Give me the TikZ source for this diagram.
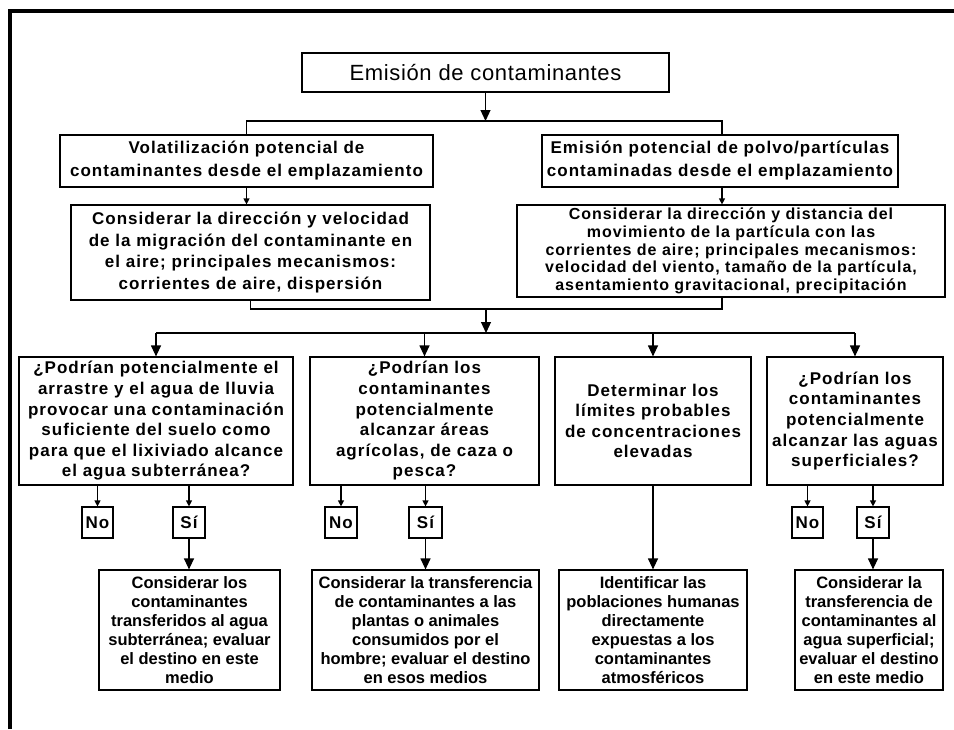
\documentclass[tikz,border=0pt]{standalone}
\usepackage{fontspec}
\setmainfont{Liberation Sans}
\newfontfamily\spacedfont[LetterSpace=6]{Liberation Sans}
\newfontfamily\titlefont[LetterSpace=3]{Liberation Sans}
\usetikzlibrary{positioning,arrows.meta}
\tikzset{
  flow box/.style 2 args={
    draw,
    line width=1.2pt,
    inner sep=0pt,
    align=center,
    minimum width={#1pt},
    minimum height={#2pt},
  },
  title text/.style={font=\titlefont\fontsize{22}{26}\selectfont},
  ask text/.style={font=\spacedfont\bfseries\fontsize{17}{#1}\selectfont},
  step text/.style={font=\spacedfont\bfseries\fontsize{16}{17.7}\selectfont},
  result text/.style={font=\bfseries\fontsize{16.5}{19}\selectfont},
  big arrow/.style={-{Triangle[width=10pt,length=11pt]}, line width=1.2pt},
  small arrow/.style={-{Triangle[width=6pt,length=6pt]}, line width=1.2pt},
  link/.style={line width=1.2pt},
}
\begin{document}
\begin{tikzpicture}[x=1pt, y=-1pt]
    \useasboundingbox (0,0) rectangle (954,729);
    \draw[line width=4.3pt] (10,729) -- (10,11.2) -- (954,11.2);

    % source and pathways
    \node [flow box={367}{39}, title text] (emis) at (485.5,72.5) {Emisión de contaminantes};
    \node [flow box={373}{52}, ask text=23] (vol) at (246.5,161)
        {Volatilización potencial de\\contaminantes desde el emplazamiento};
    \node [flow box={356}{52}, ask text=23] (pol) at (720,161)
        {Emisión potencial de polvo/partículas\\contaminadas desde el emplazamiento};
    \node [flow box={359}{95}, ask text=21.5] (cdir) at (250.5,252.5)
        {Considerar la dirección y velocidad\\de la migración del contaminante en\\el aire; principales mecanismos:\\corrientes de aire, dispersión};
    \node [flow box={428}{92}, step text] (cdist) at (731,251)
        {Considerar la dirección y distancia del\\movimiento de la partícula con las\\corrientes de aire; principales mecanismos:\\velocidad del viento, tamaño de la partícula,\\asentamiento gravitacional, precipitación};

    % questions
    \node [flow box={274}{128}, ask text=20.6] (qa) at (156,421)
        {¿Podrían potencialmente el\\arrastre y el agua de lluvia\\provocar una contaminación\\suficiente del suelo como\\para que el lixiviado alcance\\el agua subterránea?};
    \node [flow box={229}{128}, ask text=20.6] (qb) at (424.5,421)
        {¿Podrían los\\contaminantes\\potencialmente\\alcanzar áreas\\agrícolas, de caza o\\pesca?};
    \node [flow box={196}{128}, ask text=20.6] (qc) at (653,421)
        {Determinar los\\límites probables\\de concentraciones\\elevadas};
    \node [flow box={176}{128}, ask text=20.6] (qd) at (855,421)
        {¿Podrían los\\contaminantes\\potencialmente\\alcanzar las aguas\\superficiales?};

    % answers
    \node [flow box={31}{31}, ask text=20] (noa) at (97.5,522.5) {No};
    \node [flow box={32}{31}, ask text=20] (sia) at (189,522.5) {Sí};
    \node [flow box={32}{31}, ask text=20] (nob) at (341,522.5) {No};
    \node [flow box={33}{31}, ask text=20] (sib) at (425.5,522.5) {Sí};
    \node [flow box={31}{31}, ask text=20] (nod) at (807.5,522.5) {No};
    \node [flow box={32}{31}, ask text=20] (sid) at (873,522.5) {Sí};

    % results
    \node [flow box={181}{120}, result text] (ra) at (189.5,630)
        {Considerar los\\contaminantes\\transferidos al agua\\subterránea; evaluar\\el destino en este\\medio};
    \node [flow box={227}{120}, result text] (rb) at (425.5,630)
        {Considerar la transferencia\\de contaminantes a las\\plantas o animales\\consumidos por el\\hombre; evaluar el destino\\en esos medios};
    \node [flow box={188}{120}, result text] (rc) at (653,630)
        {Identificar las\\poblaciones humanas\\directamente\\expuestas a los\\contaminantes\\atmosféricos};
    \node [flow box={148}{120}, result text] (rd) at (869,630)
        {Considerar la\\transferencia de\\contaminantes al\\agua superficial;\\evaluar el destino\\en este medio};

    % connectors
    \coordinate (split1) at (485.5,121);
    \coordinate (rx) at (722,121);
    \coordinate (join) at (486,309);
    \coordinate (split2) at (486,333);
    \draw [big arrow] (emis.south) -- (split1);
    \draw [link] (vol.north) |- (rx) -- (rx |- pol.north);
    \draw [small arrow] (vol.south) -- (vol.south |- cdir.north);
    \draw [small arrow] (rx |- pol.south) -- (rx |- cdist.north);
    \draw [link] (cdir.south) |- (join) -| (rx |- cdist.south);
    \draw [big arrow] (join) -- (split2);
    \draw [link] (qa.north |- split2) -- (qd.north |- split2);
    \draw [line width=2.5pt] (508,333) -- (538,333);
    \foreach \q in {qa,qb,qc,qd}
        \draw [big arrow] (\q.north |- split2) -- (\q.north);
    \foreach \a/\q in {noa/qa,sia/qa,nob/qb,sib/qb,nod/qd,sid/qd}
        \draw [small arrow] (\a.north |- \q.south) -- (\a.north);
    \foreach \a/\r in {sia/ra,sib/rb,sid/rd}
        \draw [big arrow] (\a.south) -- (\a.south |- \r.north);
    \draw [big arrow] (qc.south) -- (rc.north);
\end{tikzpicture}
\end{document}
